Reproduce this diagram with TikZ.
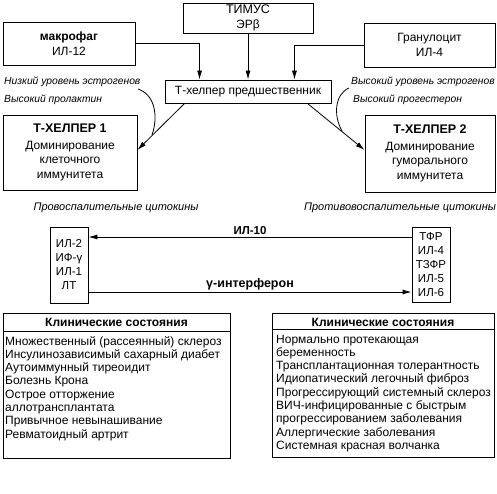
\documentclass[tikz,border=0pt]{standalone}
\usepackage{fontspec}
\setmainfont{Liberation Sans}
\usetikzlibrary{arrows.meta,calc}
\begin{document}
\begin{tikzpicture}[x=1pt,y=-1pt,
  box/.style={draw,line width=0.9pt,inner sep=0pt,align=center,font=\fontsize{12}{14.5}\selectfont},
  cytbox/.style={draw,line width=0.9pt,inner sep=0pt,align=center,font=\fontsize{11.5}{14}\selectfont},
  arr/.style={line width=0.8pt,-{Latex[length=9pt,width=5pt]}},
  bracketline/.style={line width=0.8pt},
  ital/.style={font=\fontsize{10.3}{13}\selectfont\itshape,inner sep=0pt},
  catlbl/.style={font=\fontsize{11}{13}\selectfont\itshape,inner sep=0pt},
  boldlbl/.style={font=\fontsize{11.5}{13}\selectfont\bfseries,inner sep=0pt},
  item/.style={anchor=west,inner sep=0pt,font=\fontsize{12}{13}\selectfont,text height=8.5pt,text depth=2.5pt},
  head/.style={inner sep=0pt,font=\fontsize{12}{13}\selectfont\bfseries}]
\useasboundingbox (0,0) rectangle (497,493);

% top row
\node[box,minimum width=130pt,minimum height=30pt] (thymus) at (248,18) {\fontsize{12.5}{14.5}\selectfont ТИМУС\\ЭРβ};
\node[box,minimum width=132pt,minimum height=43pt] (macro) at (69,43.5) {\textbf{макрофаг}\\ИЛ-12};
\node[box,minimum width=131pt,minimum height=44pt] (gran) at (429.5,45) {Гранулоцит\\ИЛ-4};
\node[box,minimum width=166pt,minimum height=23pt] (pred) at (248,91.5) {Т-хелпер предшественник};

\draw[arr] (macro.east) -| ([xshift=35pt]pred.north west);
\draw[arr] (thymus.south) -- (pred.north);
\draw[arr] (gran.west) -| ([xshift=-37pt]pred.north east);

% hormone labels
\node[ital,anchor=west] (lowE) at (4,82) {Низкий уровень эстрогенов};
\node[ital,anchor=west] (highP) at (4,100) {Высокий пролактин};
\node[ital,anchor=west] (highE) at (351,82) {Высокий уровень эстрогенов};
\node[ital,anchor=west] (highPg) at (353,100) {Высокий прогестерон};

% T helpers
\node[box,minimum width=134pt,minimum height=75pt] (th1) at (70,152.5)
  {\textbf{\fontsize{12.5}{15}\selectfont Т-ХЕЛПЕР 1}\\[2pt]Доминирование\\клеточного\\иммунитета};
\node[box,minimum width=130pt,minimum height=77pt] (th2) at (430,153.5)
  {\textbf{\fontsize{12.5}{15}\selectfont Т-ХЕЛПЕР 2}\\[2pt]Доминирование\\гуморального\\иммунитета};

\draw[arr] ([xshift=20pt]pred.south west) -- ([yshift=2.5pt]th1.east);
\draw[arr] ([xshift=-24pt]pred.south east) -- ([yshift=3.5pt]th2.west);

\coordinate (cl1) at (138,89);
\coordinate (cl2) at (152,135);
\draw[bracketline] (cl1) .. controls (156,95) and (158,118) .. (cl2);
\coordinate (cr1) at (349,88);
\coordinate (cr2) at (342,131);
\draw[bracketline] (cr1) .. controls (335,94) and (333,115) .. (cr2);

\node[catlbl] (pro) at (116,208) {Провоспалительные цитокины};
\node[catlbl] (anti) at (400,208) {Противовоспалительные цитокины};

% cytokine boxes
\node[cytbox,minimum width=38pt,minimum height=76pt] (lc) at (69,265) {ИЛ-2\\ИФ-γ\\ИЛ-1\\ЛТ};
\node[cytbox,minimum width=38pt,minimum height=75pt] (rc) at (431,264.5) {ТФР\\ИЛ-4\\ТЗФР\\ИЛ-5\\ИЛ-6};

\coordinate (yil) at (0,237);
\coordinate (yif) at (0,292);
\draw[arr] (rc.west |- yil) -- node[boldlbl,midway,above=2pt] (il10) {ИЛ-10} (lc.east |- yil);
\draw[arr] (lc.east |- yif) -- node[boldlbl,midway,above=2pt] (ifn) {\fontsize{12.5}{13}\selectfont γ-интерферон} (rc.west |- yif);

% clinical boxes
\node[draw,line width=0.9pt,minimum width=227pt,minimum height=145pt,inner sep=0pt] (clinL) at (116.5,385.5) {};
\node[head] (hL) at (116.5,322) {Клинические состояния};
\draw[line width=0.9pt] ([yshift=-19pt]clinL.north west) -- ([yshift=-19pt]clinL.north east);
\foreach \t [count=\i] in {Множественный (рассеянный) склероз,Инсулинозависимый сахарный диабет,Аутоиммунный тиреоидит,Болезнь Крона,Острое отторжение,аллотрансплантата,Привычное невынашивание,Ревматоидный артрит}
  \node[item] (lI\i) at (5,{342+13.3*(\i-1)}) {\t};

\node[draw,line width=0.9pt,minimum width=222pt,minimum height=144pt,inner sep=0pt] (clinR) at (383,385) {};
\node[head] (hR) at (383,322) {Клинические состояния};
\draw[line width=0.9pt] ([yshift=-17pt]clinR.north west) -- ([yshift=-17pt]clinR.north east);
\foreach \t [count=\i] in {Нормально протекающая,беременность,Трансплантационная толерантность,Идиопатический легочный фиброз,Прогрессирующий системный склероз,ВИЧ-инфицированные с быстрым,прогрессированием заболевания,Аллергические заболевания,Системная красная волчанка}
  \node[item] (rI\i) at (276,{340+13.3*(\i-1)}) {\t};
\end{tikzpicture}
\end{document}
